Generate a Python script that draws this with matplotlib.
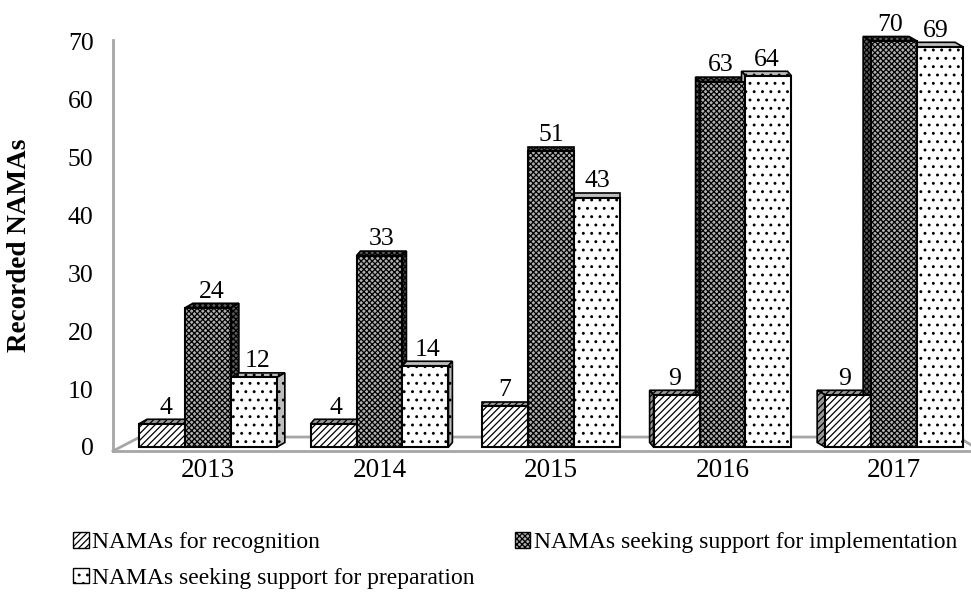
import numpy as np
import matplotlib
matplotlib.use("Agg")
import matplotlib.pyplot as plt
from matplotlib.patches import Polygon, Patch

plt.rcParams['font.family'] = ['Liberation Serif', 'DejaVu Serif']
plt.rcParams['hatch.color'] = 'black'
plt.rcParams['hatch.linewidth'] = 0.9

# Datos
years = ['2013', '2014', '2015', '2016', '2017']
recognition = [4, 4, 7, 9, 9]
implementation = [24, 33, 51, 63, 70]
preparation = [12, 14, 43, 64, 69]

series = [
    ("NAMAs for recognition", recognition),
    ("NAMAs seeking support for implementation", implementation),
    ("NAMAs seeking support for preparation", preparation),
]

# Estilo de cada serie: (color frontal, color lateral, trama)
styles = [
    ('white', '#9a9a9a', '/////'),
    ('#b0b0b0', '#5a5a5a', 'xxxxxx'),
    ('white', '#bdbdbd', '..'),
]

fig = plt.figure(figsize=(9.71, 5.96), dpi=100)
ax = fig.add_axes([113 / 971, (596 - 451) / 596, (971 - 113) / 971, (451 - 30) / 596])

ax.set_xlim(-0.554, 4.449)
ax.set_ylim(-0.69, 71.9)

x = np.arange(len(years))
w = 0.268
depth_y = 0.78          # profundidad vertical (unidades de datos)
persp = 0.023           # desplazamiento lateral según la posición

# Caras laterales y superiores (detrás de las frontales)
for i, (name, vals) in enumerate(series):
    face, side, hatch = styles[i]
    for xg, v in zip(x, vals):
        xc = xg + (i - 1) * w
        x0, x1 = xc - w / 2, xc + w / 2
        dx = (2 - xg) * persp
        top = Polygon([(x0, v), (x1, v), (x1 + dx, v + depth_y), (x0 + dx, v + depth_y)],
                      closed=True, facecolor=side, edgecolor='black', hatch=hatch,
                      linewidth=1.2, zorder=2)
        ax.add_patch(top)
        if dx > 0.001:
            xs = x1
        elif dx < -0.001:
            xs = x0
        else:
            continue
        sideface = Polygon([(xs, 0), (xs, v), (xs + dx, v + depth_y), (xs + dx, depth_y)],
                           closed=True, facecolor=side, edgecolor='black', hatch=hatch,
                           linewidth=1.2, zorder=2)
        ax.add_patch(sideface)

# Caras frontales
for i, (name, vals) in enumerate(series):
    face, side, hatch = styles[i]
    ax.bar(x + (i - 1) * w, vals, w, color=face, edgecolor='black', hatch=hatch,
           linewidth=1.5, zorder=3)
    for xg, v in zip(x, vals):
        dx = (2 - xg) * persp
        ax.text(xg + (i - 1) * w + dx / 2, v + 2.8, str(v), ha='center', va='center',
                fontsize=18.5, zorder=5)

# Suelo en perspectiva
xmin, xmax = ax.get_xlim()
ymin, ymax = ax.get_ylim()
floor_back = 1.72
ax.plot([xmin, xmin + 0.157, xmax - 0.075, xmax + 0.02],
        [ymin, floor_back, floor_back, 0.0],
        color='#a6a6a6', linewidth=2, zorder=1, clip_on=False)

for s in ['top', 'right']:
    ax.spines[s].set_visible(False)
ax.spines['left'].set_color('#a6a6a6')
ax.spines['left'].set_linewidth(2)
ax.spines['left'].set_bounds(ymin, 70.2)
ax.spines['bottom'].set_color('#a6a6a6')
ax.spines['bottom'].set_linewidth(2)

ax.set_yticks(np.arange(0, 71, 10))
ax.set_xticks(x)
ax.set_xticklabels(years)
ax.tick_params(axis='y', length=0, pad=14, labelsize=18.5)
ax.tick_params(axis='x', length=0, pad=5, labelsize=19.5)

fig.text(20 / 971, 1 - 245 / 596, 'Recorded NAMAs', rotation=90, fontsize=19.5,
         fontweight='bold', ha='center', va='center')

# Leyenda
handles = []
for i, (name, vals) in enumerate(series):
    face, side, hatch = styles[i]
    handles.append(Patch(facecolor=face, edgecolor='black', hatch=hatch, label=name))
order = [0, 2, 1]
fig.legend([handles[k] for k in order], [series[k][0] for k in order],
           loc='upper left', bbox_to_anchor=(52 / 971, 1 - 511 / 596), ncol=2,
           frameon=False, fontsize=17, handlelength=0.65, handleheight=0.65,
           handletextpad=0.15, columnspacing=1.7, labelspacing=0.6)

fig.savefig('out.png', dpi=100)
